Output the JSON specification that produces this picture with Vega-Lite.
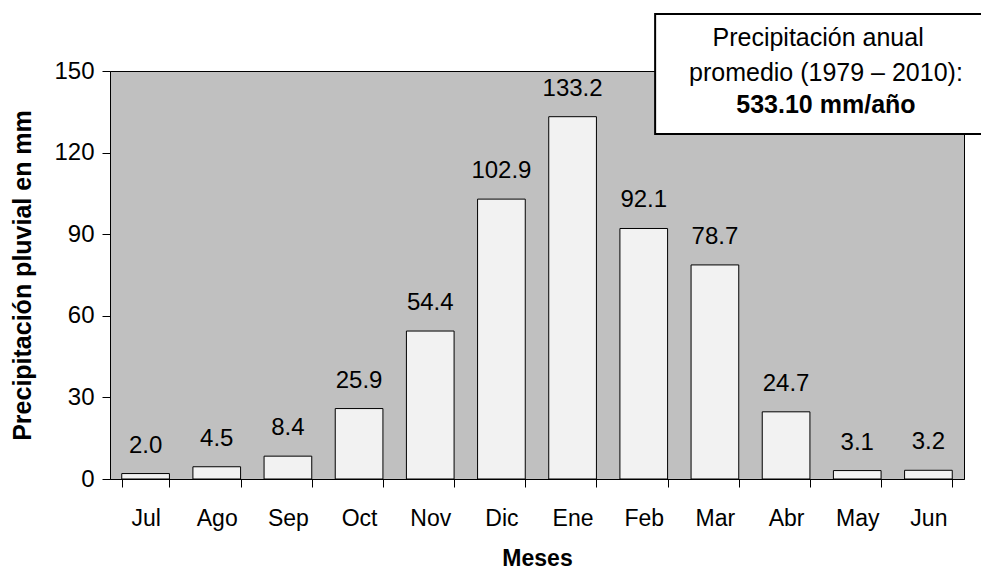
{
  "$schema": "https://vega.github.io/schema/vega-lite/v6.json",
  "width": 854,
  "height": 408,
  "autosize": {"type": "none"},
  "padding": {"left": 110, "top": 71, "right": 17, "bottom": 90},
  "background": "white",
  "config": {
    "font": "Liberation Sans",
    "view": {"fill": "#C0C0C0", "stroke": "#000000", "strokeWidth": 1},
    "axis": {"domainColor": "#000", "tickColor": "#000", "labelColor": "#000", "titleColor": "#000", "grid": false}
  },
  "data": {
    "values": [
      {"mes": "Jul", "mm": 2.0},
      {"mes": "Ago", "mm": 4.5},
      {"mes": "Sep", "mm": 8.4},
      {"mes": "Oct", "mm": 25.9},
      {"mes": "Nov", "mm": 54.4},
      {"mes": "Dic", "mm": 102.9},
      {"mes": "Ene", "mm": 133.2},
      {"mes": "Feb", "mm": 92.1},
      {"mes": "Mar", "mm": 78.7},
      {"mes": "Abr", "mm": 24.7},
      {"mes": "May", "mm": 3.1},
      {"mes": "Jun", "mm": 3.2}
    ]
  },
  "resolve": {"scale": {"x": "independent"}, "axis": {"x": "independent"}},
  "layer": [
    {
      "encoding": {
        "x": {
          "field": "mes", "type": "nominal", "sort": null,
          "scale": {"type": "band", "paddingInner": 0.33, "paddingOuter": 0.165},
          "axis": {
            "title": "Meses", "titleFontSize": 23, "titleFontWeight": "bold", "titlePadding": 17,
            "labelFontSize": 23, "labelAngle": 0, "labelPadding": 20,
            "tickBand": "extent", "tickSize": 8, "domainWidth": 1
          }
        },
        "y": {
          "field": "mm", "type": "quantitative",
          "scale": {"domain": [0, 150], "nice": false, "zero": true},
          "axis": {
            "title": "Precipitación pluvial en mm", "titleFontSize": 25, "titleFontWeight": "bold", "titlePadding": 18,
            "values": [0, 30, 60, 90, 120, 150], "labelFontSize": 24, "labelPadding": 8, "tickSize": 8
          }
        }
      },
      "layer": [
        {
          "mark": {"type": "bar", "fill": "#F2F2F2", "stroke": "#000", "strokeWidth": 1}
        },
        {
          "mark": {"type": "text", "fontSize": 24, "baseline": "alphabetic", "align": "center", "dy": -21, "color": "#000"},
          "encoding": {
            "text": {"field": "mm", "type": "quantitative", "format": ".1f"}
          }
        }
      ]
    },
    {
      "data": {"values": [{}]},
      "mark": {"type": "rect", "fill": "#FFFFFF", "stroke": "#000", "strokeWidth": 2},
      "encoding": {
        "x": {"datum": 7.66, "type": "quantitative", "scale": {"domain": [0, 12], "nice": false, "zero": false}, "axis": null},
        "x2": {"datum": 12.7},
        "y": {"datum": 171, "type": "quantitative", "scale": {"domain": [0, 150], "nice": false, "zero": true}},
        "y2": {"datum": 126.8}
      }
    },
    {
      "data": {"values": [{}]},
      "mark": {"type": "text", "fontSize": 25, "baseline": "alphabetic", "align": "center", "color": "#000"},
      "encoding": {
        "x": {"datum": 9.95, "type": "quantitative", "scale": {"domain": [0, 12], "nice": false, "zero": false}, "axis": null},
        "y": {"datum": 159.2, "type": "quantitative", "scale": {"domain": [0, 150], "nice": false, "zero": true}},
        "text": {"value": "Precipitación anual"}
      }
    },
    {
      "data": {"values": [{}]},
      "mark": {"type": "text", "fontSize": 25, "baseline": "alphabetic", "align": "center", "color": "#000"},
      "encoding": {
        "x": {"datum": 10.06, "type": "quantitative", "scale": {"domain": [0, 12], "nice": false, "zero": false}, "axis": null},
        "y": {"datum": 146.3, "type": "quantitative", "scale": {"domain": [0, 150], "nice": false, "zero": true}},
        "text": {"value": "promedio (1979 – 2010):"}
      }
    },
    {
      "data": {"values": [{}]},
      "mark": {"type": "text", "fontSize": 25, "fontWeight": "bold", "baseline": "alphabetic", "align": "center", "color": "#000"},
      "encoding": {
        "x": {"datum": 10.06, "type": "quantitative", "scale": {"domain": [0, 12], "nice": false, "zero": false}, "axis": null},
        "y": {"datum": 134.5, "type": "quantitative", "scale": {"domain": [0, 150], "nice": false, "zero": true}},
        "text": {"value": "533.10 mm/año"}
      }
    }
  ]
}
